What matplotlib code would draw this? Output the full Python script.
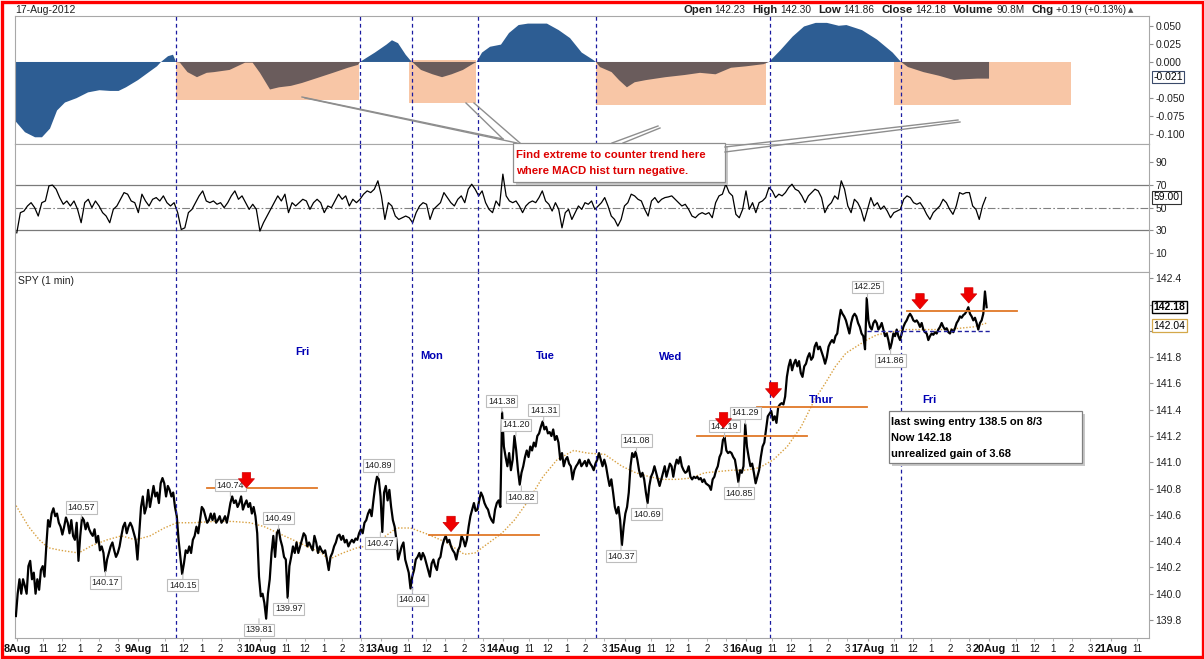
import numpy as np
import matplotlib
matplotlib.use("Agg")
import matplotlib.pyplot as plt
from matplotlib.patches import Rectangle

plt.rcParams['font.family'] = ['Liberation Sans', 'DejaVu Sans']

# ---- x axis: trading days (one unit = one 9:30-16:00 session) ----
days = ['8Aug', '9Aug', '10Aug', '13Aug', '14Aug', '15Aug', '16Aug', '17Aug', '20Aug', '21Aug']
hour_labels = ['11', '12', '1', '2', '3']
hour_minutes = [90, 150, 210, 270, 330]   # minutes after the open

# ---- SPY 1 min, sampled evenly through each session ----
price_by_day = [
    [139.83, 140.00, 140.11, 140.00, 140.11, 140.06, 140.00, 140.21, 140.25, 140.11,
     140.16, 140.00, 140.11, 140.03, 140.18, 140.21, 140.13, 140.36, 140.56, 140.51,
     140.61, 140.65, 140.59, 140.61, 140.54, 140.51, 140.45, 140.51, 140.58, 140.54,
     140.46, 140.56, 140.44, 140.41, 140.54, 140.25, 140.44, 140.58, 140.56, 140.49,
     140.54, 140.49, 140.46, 140.44, 140.49, 140.39, 140.44, 140.33, 140.36, 140.31,
     140.17, 140.26, 140.31, 140.36, 140.39, 140.33, 140.28, 140.31, 140.36, 140.44,
     140.51, 140.54, 140.46, 140.51, 140.54, 140.51, 140.46, 140.41],
    [140.26, 140.46, 140.66, 140.74, 140.61, 140.66, 140.79, 140.66, 140.74, 140.82,
     140.74, 140.77, 140.69, 140.84, 140.88, 140.84, 140.74, 140.82, 140.79, 140.74,
     140.77, 140.66, 140.59, 140.41, 140.28, 140.15, 140.23, 140.33, 140.31, 140.36,
     140.31, 140.41, 140.44, 140.51, 140.46, 140.56, 140.66, 140.64, 140.59, 140.54,
     140.56, 140.61, 140.56, 140.61, 140.54, 140.56, 140.59, 140.54, 140.56, 140.59,
     140.54, 140.61, 140.69, 140.74, 140.69, 140.71, 140.66, 140.69, 140.74, 140.64,
     140.68, 140.71, 140.66, 140.69, 140.61, 140.66, 140.59, 140.46],
    [140.13, 139.98, 140.00, 139.93, 139.81, 140.00, 140.11, 140.31, 140.44, 140.28,
     140.46, 140.49, 140.41, 140.36, 140.28, 140.26, 139.97, 140.21, 140.28, 140.36,
     140.31, 140.39, 140.31, 140.36, 140.41, 140.46, 140.44, 140.36, 140.39, 140.36,
     140.33, 140.44, 140.39, 140.31, 140.36, 140.33, 140.31, 140.33, 140.26, 140.18,
     140.28, 140.31, 140.36, 140.39, 140.44, 140.45, 140.41, 140.44, 140.39, 140.41,
     140.36, 140.39, 140.41, 140.39, 140.42, 140.41, 140.46, 140.49, 140.46, 140.54,
     140.56, 140.61, 140.64, 140.59, 140.71, 140.82, 140.89, 140.87],
    [140.74, 140.47, 140.77, 140.82, 140.71, 140.79, 140.66, 140.56, 140.51, 140.41,
     140.26, 140.31, 140.36, 140.39, 140.26, 140.21, 140.16, 140.04, 140.13, 140.18,
     140.26, 140.28, 140.31, 140.26, 140.31, 140.28, 140.23, 140.18, 140.13, 140.23,
     140.26, 140.21, 140.18, 140.26, 140.28, 140.36, 140.41, 140.44, 140.39, 140.41,
     140.36, 140.33, 140.31, 140.26, 140.33, 140.36, 140.44, 140.41, 140.36, 140.41,
     140.51, 140.59, 140.64, 140.69, 140.63, 140.64, 140.71, 140.77, 140.74, 140.69,
     140.66, 140.64, 140.59, 140.56, 140.54, 140.64, 140.69, 140.71, 140.66],
    [141.38, 141.12, 141.04, 140.97, 141.07, 140.94, 141.02, 141.20, 141.09, 140.94,
     140.83, 140.92, 140.97, 141.04, 141.09, 141.04, 141.12, 141.09, 141.15, 141.12,
     141.20, 141.22, 141.27, 141.31, 141.25, 141.27, 141.22, 141.23, 141.20, 141.25,
     141.17, 141.20, 141.15, 141.02, 141.07, 140.97, 141.02, 141.04, 140.99, 140.97,
     140.87, 140.94, 140.97, 140.99, 141.02, 140.97, 140.99, 141.01, 140.97, 141.02,
     140.99, 140.97, 140.94, 140.99, 141.02, 141.07, 141.02, 140.97, 141.02, 140.97,
     140.89, 140.82, 140.87, 140.77, 140.66, 140.61, 140.66, 140.56, 140.37],
    [140.51, 140.61, 140.66, 140.77, 140.97, 141.07, 141.04, 141.08, 141.02, 140.94,
     140.89, 140.92, 140.87, 140.77, 140.69, 140.82, 140.89, 140.92, 140.97, 140.92,
     140.87, 140.82, 140.87, 140.92, 140.97, 140.89, 140.94, 140.99, 140.97, 140.89,
     140.97, 141.02, 140.99, 141.04, 140.97, 140.94, 140.92, 140.93, 140.97, 140.89,
     140.87, 140.89, 140.88, 140.89, 140.87, 140.88, 140.85, 140.87, 140.84, 140.83,
     140.82, 140.79, 140.87, 140.89, 140.94, 140.97, 141.04, 141.07, 141.17, 141.19,
     141.09, 141.07, 141.08, 141.07, 141.04, 141.02, 140.94, 140.85, 140.94, 140.92,
     140.97],
    [141.29, 141.12, 141.04, 140.97, 140.99, 140.92, 140.84, 140.89, 140.94, 141.04,
     141.12, 141.15, 141.25, 141.35, 141.37, 141.39, 141.32, 141.35, 141.30, 141.42,
     141.44, 141.45, 141.44, 141.50, 141.65, 141.73, 141.78, 141.70, 141.75, 141.78,
     141.73, 141.77, 141.68, 141.65, 141.73, 141.75, 141.80, 141.83, 141.78, 141.80,
     141.88, 141.91, 141.86, 141.88, 141.84, 141.80, 141.75, 141.80, 141.88, 141.91,
     141.93, 141.91, 141.96, 141.98, 142.08, 142.16, 142.13, 142.11, 142.08, 142.03,
     141.98, 142.06, 142.11, 142.13, 142.11, 142.06, 142.03, 141.98, 141.96, 141.86],
    [142.25, 142.08, 142.03, 142.01, 142.06, 142.08, 142.06, 142.01, 142.03, 142.06,
     142.01, 141.96, 141.98, 141.93, 141.86, 141.91, 141.98, 141.96, 142.01, 141.96,
     141.93, 141.98, 142.03, 142.06, 142.08, 142.11, 142.13, 142.11, 142.08, 142.07,
     142.08, 142.06, 142.03, 142.06, 142.01, 141.99, 141.98, 141.93, 141.96, 141.98,
     141.97, 141.99, 141.98, 142.01, 142.03, 142.06, 142.03, 142.01, 142.02, 141.99,
     141.98, 142.01, 141.99, 142.02, 142.06, 142.08, 142.11, 142.10, 142.12, 142.13,
     142.15, 142.18, 142.13, 142.11, 142.08, 142.10, 142.06, 142.01, 142.06, 142.08,
     142.13, 142.30, 142.18],
]

# ---- RSI, sampled evenly through each session ----
rsi_by_day = [
    [27.8, 45.6, 47.0, 51.5, 54.4, 50.0, 42.6, 54.4, 55.9, 69.3, 69.9, 66.3, 58.9, 53.0, 55.9, 51.5, 55.9,
     48.5, 36.7, 54.4, 57.4, 50.0, 55.9, 51.5, 45.6, 42.6, 36.7, 48.5, 51.5, 57.4, 63.3, 61.9, 55.9, 54.4],
    [45.6, 61.9, 55.9, 51.5, 57.4, 58.9, 55.9, 60.4, 54.4, 51.5, 54.4, 45.6, 30.7, 32.2, 45.6, 48.5, 54.4,
     60.4, 64.8, 55.9, 54.4, 55.9, 53.0, 54.4, 50.0, 54.4, 60.4, 64.8, 57.4, 60.4, 54.4, 48.5, 53.0, 48.5],
    [29.3, 36.7, 42.6, 48.5, 54.4, 60.4, 55.9, 61.9, 45.6, 54.4, 51.5, 54.4, 57.4, 55.9, 48.5, 54.4, 57.4,
     54.4, 45.6, 51.5, 50.0, 55.9, 61.9, 57.4, 60.4, 51.5, 57.4, 54.4, 57.4, 61.9, 64.8, 63.3, 66.3, 73.7],
    [60.4, 39.6, 54.4, 51.5, 42.6, 39.6, 41.1, 42.6, 41.1, 36.7, 45.6, 51.5, 54.4, 53.0, 39.6, 48.5, 51.5,
     54.4, 63.3, 58.9, 54.4, 51.5, 57.4, 60.4, 54.4, 66.3, 70.7, 66.3, 60.4, 64.8, 54.4, 48.5, 45.6, 55.9, 51.5],
    [79.6, 60.4, 55.9, 54.4, 55.9, 51.5, 45.6, 51.5, 54.4, 55.9, 54.4, 58.9, 64.8, 55.9, 53.0, 47.0, 54.4,
     48.5, 32.2, 45.6, 48.5, 39.6, 45.6, 51.5, 48.5, 54.4, 53.0, 55.9, 48.5, 51.5, 54.4, 58.9, 51.5, 42.6,
     39.6, 33.7, 39.6],
    [51.5, 54.4, 61.9, 60.4, 57.4, 55.9, 48.5, 42.6, 55.9, 58.9, 54.4, 57.4, 58.9, 59.5, 60.4, 57.4, 54.4,
     51.5, 53.0, 48.5, 42.6, 41.1, 44.1, 45.6, 44.1, 45.6, 41.1, 54.4, 60.4, 61.9, 70.7, 63.3, 60.4, 44.1,
     41.1, 48.5],
    [64.8, 48.5, 54.4, 45.6, 54.4, 55.9, 58.9, 67.8, 64.8, 58.9, 61.9, 60.4, 63.3, 67.8, 70.7, 66.3, 64.8,
     60.4, 54.4, 60.4, 63.3, 66.3, 64.8, 58.9, 45.6, 51.5, 54.4, 60.4, 57.4, 73.7, 66.3, 51.5, 45.6, 57.4,
     54.4, 48.5, 38.1],
    [48.5, 58.9, 51.5, 54.4, 48.5, 51.5, 47.0, 41.1, 45.6, 47.0, 48.5, 57.4, 60.4, 58.9, 54.4, 53.0, 54.4,
     50.0, 44.1, 39.6, 45.6, 48.5, 51.5, 57.4, 54.4, 48.5, 44.1, 51.5, 63.3, 61.9, 63.3, 63.3, 51.5, 48.5,
     39.6, 51.5, 59.0],
]

# ---- moving average on price ----
ma_t = [0.009, 0.112, 0.200, 0.273, 0.376, 0.523, 0.640, 0.758, 0.876, 0.993, 1.111, 1.228, 1.331,
        1.463, 1.640, 1.787, 1.933, 2.051, 2.168, 2.286, 2.403, 2.521, 2.580, 2.697, 2.815, 2.933,
        3.050, 3.138, 3.255, 3.402, 3.549, 3.696, 3.784, 3.902, 4.005, 4.108, 4.225, 4.343, 4.460,
        4.597, 4.710, 4.852, 4.993, 5.107, 5.220, 5.333, 5.447, 5.560, 5.673, 5.787, 5.900, 6.013,
        6.127, 6.240, 6.353, 6.467, 6.580, 6.665, 6.750, 6.835, 6.920, 7.005, 7.090, 7.203, 7.317,
        7.430, 7.543, 7.656, 7.770, 7.883, 7.996]
ma_v = [140.67, 140.51, 140.41, 140.35, 140.33, 140.31, 140.37, 140.41, 140.44, 140.41, 140.44, 140.50,
        140.54, 140.54, 140.55, 140.55, 140.54, 140.51, 140.46, 140.41, 140.36, 140.31, 140.26, 140.31,
        140.35, 140.37, 140.44, 140.50, 140.50, 140.45, 140.39, 140.30, 140.31, 140.39, 140.46, 140.56,
        140.71, 140.89, 141.02, 141.09, 141.07, 141.06, 140.97, 140.92, 140.89, 140.87, 140.87, 140.88,
        140.92, 140.93, 140.94, 140.94, 140.96, 141.02, 141.12, 141.27, 141.48, 141.60, 141.73, 141.83,
        141.88, 141.93, 141.97, 141.99, 142.01, 142.01, 142.01, 142.01, 142.02, 142.03, 142.06]

# ---- MACD histogram ----
macd_t = [0.000, 0.082, 0.165, 0.222, 0.288, 0.346, 0.411, 0.506, 0.601, 0.695, 0.782, 0.852, 0.913,
          1.012, 1.102, 1.168, 1.201, 1.259, 1.300, 1.325,
          1.357, 1.419, 1.497, 1.577, 1.637, 1.765, 1.892, 1.955, 2.015, 2.098, 2.172, 2.270, 2.361,
          2.489, 2.616, 2.739, 2.822, 2.838,
          2.904, 2.961, 3.056, 3.101, 3.151, 3.214, 3.264,
          3.274, 3.340, 3.435, 3.513, 3.592, 3.685, 3.764, 3.797,
          3.842, 3.908, 3.998, 4.064, 4.143, 4.220, 4.376, 4.473, 4.566, 4.662, 4.755, 4.780,
          4.812, 4.908, 4.969, 5.034, 5.098, 5.191, 5.351, 5.509, 5.635, 5.763, 5.890, 6.014, 6.159, 6.203,
          6.301, 6.397, 6.491, 6.587, 6.680, 6.777, 6.840, 6.968, 7.091, 7.220, 7.289,
          7.346, 7.474, 7.601, 7.725, 7.790, 7.918, 8.013]
macd_v = [-0.081, -0.097, -0.104, -0.104, -0.092, -0.067, -0.056, -0.050, -0.042, -0.039, -0.040, -0.040,
          -0.035, -0.025, -0.014, -0.006, 0.000, 0.008, 0.010, 0.000,
          -0.001, -0.014, -0.021, -0.015, -0.014, -0.011, -0.001, -0.001, -0.015, -0.038, -0.035, -0.033,
          -0.029, -0.022, -0.015, -0.008, -0.004, 0.000,
          0.007, 0.013, 0.024, 0.030, 0.026, 0.010, 0.000,
          -0.001, -0.011, -0.017, -0.021, -0.017, -0.011, -0.003, 0.000,
          0.013, 0.021, 0.024, 0.040, 0.051, 0.053, 0.053, 0.044, 0.033, 0.013, 0.003, 0.000,
          -0.007, -0.014, -0.025, -0.035, -0.028, -0.025, -0.021, -0.018, -0.015, -0.017, -0.008, -0.006,
          -0.003, 0.000,
          0.017, 0.035, 0.049, 0.054, 0.054, 0.050, 0.051, 0.044, 0.031, 0.013, 0.000,
          -0.007, -0.014, -0.019, -0.025, -0.024, -0.023, -0.023]

# shaded windows in the MACD pane: start, end, low, high
macd_windows = [(1.325, 2.830, -0.053, 0.0), (3.241, 3.792, -0.0565, 0.003),
                (4.780, 6.178, -0.060, 0.0), (7.231, 8.687, -0.060, 0.0)]
cross_t = [1.328, 2.837, 3.266, 3.807, 4.781, 6.207, 7.290]

# ---- price annotations ----
swing_t = [0.546, 0.744, 1.381, 1.772, 2.168, 2.251, 2.007, 2.991, 3.006, 3.270, 4.005, 4.121,
           4.349, 4.166, 5.113, 5.197, 4.985, 5.837, 6.008, 5.956, 7.013, 7.203]
swing_v = [140.57, 140.17, 140.15, 140.74, 140.49, 139.97, 139.81, 140.89, 140.47, 140.04, 141.38, 141.20,
           141.31, 140.82, 141.08, 140.69, 140.37, 141.19, 141.29, 140.85, 142.25, 141.86]
swing_hi = [1, 0, 0, 1, 1, 0, 0, 1, 0, 0, 1, 1, 1, 0, 1, 0, 0, 1, 1, 0, 1, 0]

level_t0 = [1.580, 3.402, 5.610, 6.104, 7.338]
level_t1 = [2.484, 4.307, 6.512, 7.005, 8.243]
level_v = [140.803, 140.448, 141.201, 141.421, 142.154]
support = (7.009, 8.021, 142.00)

arrow_t = [1.904, 3.587, 5.829, 6.240, 7.445, 7.846]
arrow_v = [140.805, 140.473, 141.262, 141.490, 142.167, 142.212]

day_names = ['Fri', 'Mon', 'Tue', 'Wed', 'Thur', 'Fri']
day_name_t = [2.361, 3.430, 4.360, 5.397, 6.630, 7.519]
day_name_v = [141.84, 141.81, 141.81, 141.80, 141.475, 141.475]

header = [('Open', '142.23'), ('High', '142.30'), ('Low', '141.86'), ('Close', '142.18'),
          ('Volume', '90.8M'), ('Chg', '+0.19 (+0.13%)')]


def session_times(by_day):
    t = []
    for d, vals in enumerate(by_day):
        n = len(vals)
        t.extend(d + (np.arange(n) + 0.5) / n)
    return np.array(t)


price_t = session_times(price_by_day)
price_v = np.concatenate(price_by_day)
rsi_t = session_times(rsi_by_day)
rsi_v = np.concatenate(rsi_by_day)
macd_t = np.array(macd_t)
macd_v = np.array(macd_v)

BLUE = '#2D5D93'
BROWN = '#6A5C5C'
PEACH = '#F8C6A6'
NAVY = '#1A1AA0'
GRID = '#A8A8A8'

W_PX, H_PX = 1204, 659
fig = plt.figure(figsize=(W_PX / 100, H_PX / 100), dpi=100)
left = 15 / W_PX
width = (1149 - 15) / W_PX
ax_m = fig.add_axes([left, 1 - 144 / H_PX, width, 128 / H_PX])
ax_r = fig.add_axes([left, 1 - 272 / H_PX, width, 128 / H_PX])
ax_p = fig.add_axes([left, 1 - 638 / H_PX, width, 366 / H_PX])

for ax in (ax_m, ax_r, ax_p):
    ax.set_xlim(0, 9.329)
    for s in ax.spines.values():
        s.set_color(GRID)
        s.set_linewidth(0.8)
    ax.yaxis.tick_right()
    ax.tick_params(axis='y', labelsize=7.5, length=3, color='#909090', labelcolor='#202020', pad=1.5)
    for t in cross_t:
        ax.axvline(t, color=NAVY, lw=0.9, linestyle=(0, (3, 2.5)), zorder=4)

# MACD pane
for t0, t1, lo, hi in macd_windows:
    ax_m.add_patch(Rectangle((t0, lo), t1 - t0, hi - lo, facecolor=PEACH, edgecolor='none', zorder=1))
blue_mask = (macd_v >= 0) | (macd_t < 1.33)
brown_mask = (macd_v <= 0) & (macd_t >= 1.325)
ax_m.fill_between(macd_t, 0, macd_v, where=blue_mask, color=BLUE, lw=0, zorder=2)
ax_m.fill_between(macd_t, 0, macd_v, where=brown_mask, color=BROWN, lw=0, zorder=2)
ax_m.set_ylim(-0.1133, 0.0635)
ax_m.set_xticks([])
ax_m.set_yticks([0.05, 0.025, 0.0, -0.05, -0.075, -0.1])
ax_m.set_yticklabels(['0.050', '0.025', '0.000', '-0.050', '-0.075', '-0.100'])
ax_m.text(1.004, macd_v[-1] + 0.002, '-0.021', transform=ax_m.get_yaxis_transform(), fontsize=7.5,
          ha='left', va='center', bbox=dict(boxstyle='square,pad=0.12', fc='white', ec='#3A4A6A', lw=0.8))

# RSI pane
ax_r.plot(rsi_t, rsi_v, color='black', lw=0.9, zorder=3)
ax_r.axhline(70, color='#7A7A7A', lw=0.9, zorder=1)
ax_r.axhline(30, color='#7A7A7A', lw=0.9, zorder=1)
ax_r.axhline(50, color='#808080', lw=0.8, linestyle=(0, (7, 2, 1.5, 2)), zorder=1)
ax_r.set_ylim(-6.8, 106.2)
ax_r.set_xticks([])
ax_r.set_yticks([90, 70, 50, 30, 10])
ax_r.text(1.004, 59, '59.00', transform=ax_r.get_yaxis_transform(), fontsize=7.5,
          ha='left', va='center', bbox=dict(boxstyle='square,pad=0.12', fc='white', ec='#303030', lw=0.8))

# price pane
ax_p.plot(ma_t, ma_v, color='#D8A040', lw=1.0, linestyle=(0, (1, 1.3)), zorder=2)
ax_p.plot(price_t, price_v, color='black', lw=1.6, zorder=3)
for t0, t1, v in zip(level_t0, level_t1, level_v):
    ax_p.plot([t0, t1], [v, v], color='#E07828', lw=1.3, zorder=5)
ax_p.plot([support[0], support[1]], [support[2], support[2]], color='#2020A0', lw=1.0,
          linestyle=(0, (3, 2)), zorder=5)
for t, v, hi in zip(swing_t, swing_v, swing_hi):
    ax_p.annotate(f'{v:.2f}', xy=(t, v), xytext=(0, 8.1 if hi else -8.1), textcoords='offset points',
                  ha='center', va='center', fontsize=6.5, color='#202020', zorder=6,
                  bbox=dict(boxstyle='square,pad=0.18', fc='white', ec='#BDBDBD', lw=0.8),
                  arrowprops=dict(arrowstyle='-', color='#BDBDBD', lw=0.8, shrinkA=0, shrinkB=0))
for t, v in zip(arrow_t, arrow_v):
    ax_p.annotate('', xy=(t, v), xytext=(0, 11), textcoords='offset points', zorder=8,
                  arrowprops=dict(arrowstyle='simple,head_length=0.6,head_width=1.05,tail_width=0.55',
                                  fc='#F00000', ec='#D00000', lw=0.5, shrinkA=0, shrinkB=0,
                                  mutation_scale=11))
for name, t, v in zip(day_names, day_name_t, day_name_v):
    ax_p.text(t, v, name, color='#0000B4', fontsize=8, fontweight='bold', ha='center', va='center', zorder=6)
ax_p.text(0.003, 0.988, 'SPY (1 min)', transform=ax_p.transAxes, fontsize=7.5, color='#202020',
          ha='left', va='top')
ax_p.set_ylim(139.663, 142.448)
ticks = np.round(np.arange(139.8, 142.41, 0.2), 1)
ax_p.set_yticks(ticks)
# 142.2 and 142.0 sit under the last-value boxes
ax_p.set_yticklabels(['' if v in (142.2, 142.0) else f'{v:.1f}' for v in ticks])
ax_p.text(1.004, price_v[-1], '142.18', transform=ax_p.get_yaxis_transform(), fontsize=7.5,
          fontweight='bold', ha='left', va='center', zorder=9,
          bbox=dict(boxstyle='square,pad=0.12', fc='white', ec='black', lw=1.0))
ax_p.text(1.004, 142.04, '142.04', transform=ax_p.get_yaxis_transform(), fontsize=7.5,
          ha='left', va='center', zorder=9,
          bbox=dict(boxstyle='square,pad=0.12', fc='white', ec='#D4A84A', lw=0.9))

major_pos = [i + 0.015 for i in range(len(days))]
minor_pos, minor_lab = [], []
for i in range(len(days)):
    for m, lab in zip(hour_minutes, hour_labels):
        p = i + m / 390
        if p < 9.32:
            minor_pos.append(p)
            minor_lab.append(lab)
ax_p.set_xticks(major_pos)
ax_p.set_xticklabels(days, fontsize=7.8, fontweight='bold')
ax_p.set_xticks(minor_pos, minor=True)
ax_p.set_xticklabels(minor_lab, minor=True, fontsize=7)
ax_p.tick_params(axis='x', which='both', length=2, pad=2, color=GRID, labelcolor='#101010')

# ---- overlay in image pixels for header, callouts and frame ----
ov = fig.add_axes([0, 0, 1, 1], zorder=20)
ov.set_xlim(0, W_PX)
ov.set_ylim(H_PX, 0)
ov.axis('off')
ov.patch.set_alpha(0)

ov.text(15, 10, '17-Aug-2012', fontsize=7.5, color='#202020', ha='left', va='center')

# header laid out left to right, measured with the renderer
renderer = fig.canvas.get_renderer()
x = 683
for name, val in header:
    t1 = ov.text(x, 10, name, fontsize=8.2, fontweight='bold', color='#202020', ha='left', va='center')
    x += t1.get_window_extent(renderer).width + 2.5
    t2 = ov.text(x, 10, val, fontsize=7.3, color='#202020', ha='left', va='center')
    x += t2.get_window_extent(renderer).width + 7
ov.text(x - 5, 10, '\u25b2', fontsize=5, color='#505050', ha='left', va='center', family='DejaVu Sans')

callout = '#8E8E8E'
for (x0, y0), (x1, y1) in [((302, 97), (503, 139)), ((305, 98), (517, 143)),
                           ((466, 103), (503, 139)), ((474, 103), (520, 143)),
                           ((658, 126), (612, 143)), ((660, 128), (623, 143)),
                           ((958, 120), (725, 147)), ((960, 122), (725, 152))]:
    ov.plot([x0, x1], [y0, y1], color=callout, lw=1.0)
ov.add_patch(Rectangle((516, 146), 212, 39, fc='#C8C8C8', ec='none'))
ov.add_patch(Rectangle((513, 143), 212, 39, fc='white', ec=callout, lw=0.9))
ov.text(516, 154.5, 'Find extreme to counter trend here', color='#DD0000', fontsize=8.2,
        fontweight='bold', ha='left', va='center')
ov.text(516, 171, 'where MACD hist turn negative.', color='#DD0000', fontsize=8.2,
        fontweight='bold', ha='left', va='center')

ov.add_patch(Rectangle((892, 414), 193, 52, fc='#C8C8C8', ec='none'))
ov.add_patch(Rectangle((889, 411), 193, 52, fc='white', ec='#808080', lw=0.9))
for y, s in [(422.3, 'last swing entry 138.5 on 8/3'), (437.7, 'Now 142.18'),
             (453.7, 'unrealized gain of 3.68')]:
    ov.text(891, y, s, fontsize=8, fontweight='bold', color='black', ha='left', va='center')

ov.add_patch(Rectangle((1.5, 1.5), W_PX - 3, H_PX - 3.5, fill=False, ec='#FF0000', lw=2.4))

fig.savefig('out.png', dpi=100)
